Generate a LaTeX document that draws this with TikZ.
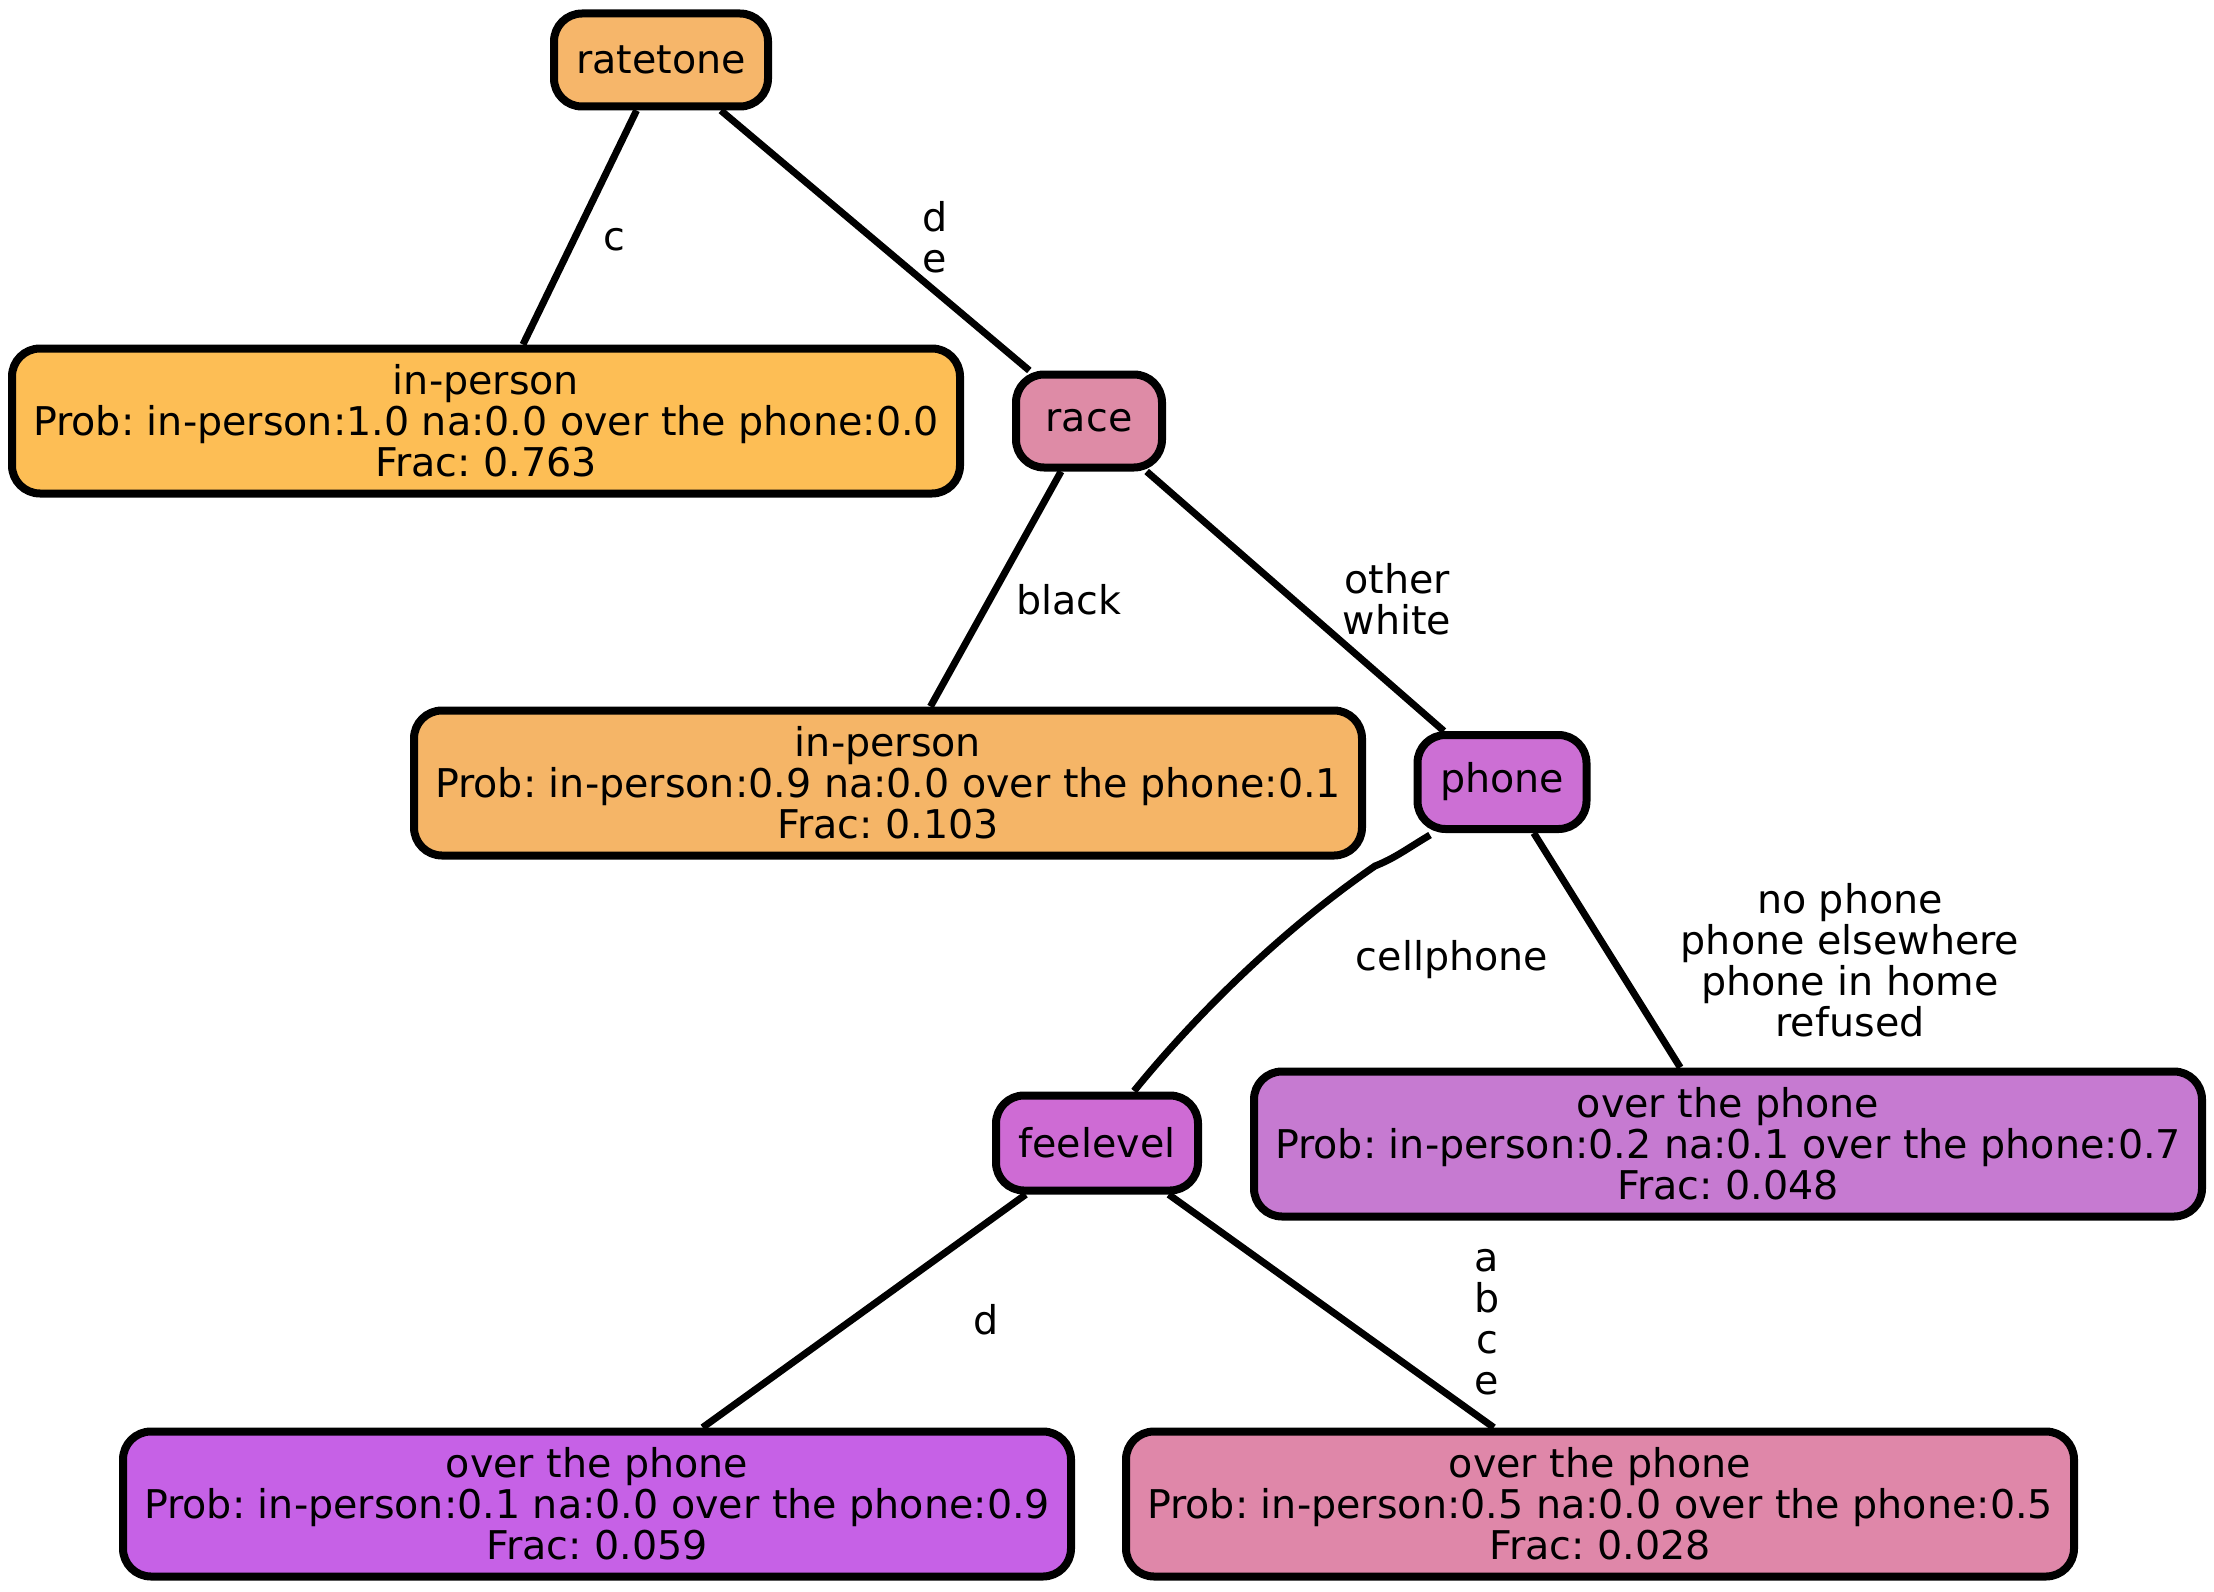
\documentclass[tikz,border=0pt]{standalone}
\usepackage{fontspec}
\setmainfont{DejaVu Sans}
\frenchspacing
\definecolor{cRate}{RGB}{246,182,106}
\definecolor{cLeafA}{RGB}{253,190,85}
\definecolor{cRace}{RGB}{222,139,166}
\definecolor{cLeafB}{RGB}{245,181,103}
\definecolor{cPhone}{RGB}{204,111,212}
\definecolor{cFee}{RGB}{206,107,212}
\definecolor{cLeafC}{RGB}{198,122,209}
\definecolor{cLeafD}{RGB}{198,97,230}
\definecolor{cLeafE}{RGB}{223,135,169}
\begin{document}
\begin{tikzpicture}[x=1pt,y=-1pt,
  every node/.style={font=\fontsize{39.6}{41}\selectfont},
  box/.style={draw=black,line width=8pt,rounded corners=28pt,inner sep=0pt,align=center},
  inner/.style={box,minimum height=93pt},
  leaf/.style={box,minimum width=948pt,minimum height=145pt},
  edge/.style={draw=black,line width=7pt},
  lbl/.style={align=center,inner sep=0pt}]
\useasboundingbox (0,0) rectangle (2214,1592);
\node[inner,fill=cRate,minimum width=214pt] (rt) at (661,60) {ratetone};
\node[leaf,fill=cLeafA] (l1) at (486,421) {in-person\\Prob: in-person:1.0 na:0.0 over the phone:0.0\\Frac: 0.763};
\node[inner,fill=cRace,minimum width=146pt] (race) at (1089,421) {race};
\node[leaf,fill=cLeafB] (l2) at (888,783) {in-person\\Prob: in-person:0.9 na:0.0 over the phone:0.1\\Frac: 0.103};
\node[inner,fill=cPhone,minimum width=169pt,minimum height=94pt] (phone) at (1502,782) {phone};
\node[inner,fill=cFee,minimum width=202pt,minimum height=95pt] (fee) at (1097,1143) {feelevel};
\node[leaf,fill=cLeafC] (l3) at (1728,1144) {over the phone\\Prob: in-person:0.2 na:0.1 over the phone:0.7\\Frac: 0.048};
\node[leaf,fill=cLeafD] (l4) at (597,1504) {over the phone\\Prob: in-person:0.1 na:0.0 over the phone:0.9\\Frac: 0.059};
\node[leaf,fill=cLeafE] (l5) at (1600,1504) {over the phone\\Prob: in-person:0.5 na:0.0 over the phone:0.5\\Frac: 0.028};
\coordinate (ps) at (1430,835);
\coordinate (fs) at (1134,1091);
\draw[edge] (rt) -- (l1);
\draw[edge] (rt) -- (race);
\draw[edge] (race) -- (l2);
\draw[edge] (race) -- (phone);
\draw[edge] (ps) .. controls (1405,850) and (1395,858) .. (1375,866) .. controls (1285,928) and (1200,1010) .. (fs);
\draw[edge] (phone) -- (l3);
\draw[edge] (fee) -- (l4);
\draw[edge] (fee) -- (l5);
\node[lbl] (e1) at (614,240) {c};
\node[lbl] (e2) at (935,237) {d\\e};
\node[lbl] (e3) at (1069,600) {black};
\node[lbl] (e4) at (1397,599) {other\\white};
\node[lbl] (e5) at (1452,960) {cellphone};
\node[lbl] (e6) at (1850,960) {no phone\\phone elsewhere\\phone in home\\refused};
\node[lbl] (e7) at (986,1320) {d};
\node[lbl] (e8) at (1487,1322) {a\\b\\c\\e};
\end{tikzpicture}
\end{document}
